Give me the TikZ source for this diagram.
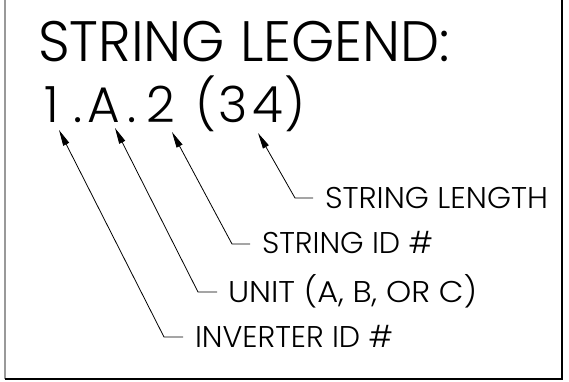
\documentclass[tikz,border=0pt]{standalone}
\usepackage{fontspec}
\usepackage{graphicx}
\setmainfont{Poppins}[UprightFont=*-Light]
\usetikzlibrary{arrows.meta}
\newcommand\fitw[3]{\resizebox{#1}{\height}{\fontsize{#2}{#2}\selectfont #3}}
\begin{document}
\begin{tikzpicture}[x=1pt,y=-1pt,
  lbl/.style={anchor=base west,inner sep=0pt,outer sep=0pt},
  glyph/.style={anchor=base,inner sep=0pt,outer sep=0pt,font=\fontsize{50}{50}\selectfont},
  leader/.style={draw=black,line width=0.8pt,-{Triangle[length=16pt,width=6.5pt]}},
  frameline/.style={line width=1.6pt}]
\useasboundingbox (0,0) rectangle (569,382);
% frame
\draw[frameline,draw=gray!80] (5,0) -- (5,379);
\draw[frameline] (5,379) -- (562,379) -- (562,0);
% title
\node[lbl] (title) at (38,62) {\fitw{412pt}{57}{STRING LEGEND:}};
% code 1.A.2 (34), glyph by glyph
\node[glyph] (g1) at (51.5,123) {1};
\node[glyph] (d1) at (78,123) {.};
\node[glyph] (gA) at (104,123) {A};
\node[glyph] (d2) at (132,123) {.};
\node[glyph] (g2) at (161,123) {2};
\node[glyph] (pl) at (206,123) {(};
\node[glyph] (g3) at (233.5,123) {3};
\node[glyph] (g4) at (267.5,123) {4};
\node[glyph] (pr) at (295,123) {)};
% labels
\node[lbl] (len) at (325,208) {\fitw{223pt}{30}{STRING LENGTH}};
\node[lbl] (sid) at (262,253) {\fitw{171pt}{30}{STRING ID \#}};
\node[lbl] (unit) at (228,302) {\fitw{249pt}{30}{UNIT (A, B, OR C)}};
\node[lbl] (inv) at (195,347) {\fitw{198pt}{30}{INVERTER ID \#}};
% leader points
\coordinate (t1) at (59,130);
\coordinate (t2) at (115,128);
\coordinate (t3) at (172,132);
\coordinate (t4) at (258,133);
\coordinate (e1) at (164,337);
\coordinate (e2) at (198,292);
\coordinate (e3) at (232,244);
\coordinate (e4) at (295,198);
\draw[leader] ([xshift=-12pt]inv.west |- e1) -- (e1) -- (t1);
\draw[leader] ([xshift=-11pt]unit.west |- e2) -- (e2) -- (t2);
\draw[leader] ([xshift=-12pt]sid.west |- e3) -- (e3) -- (t3);
\draw[leader] ([xshift=-12pt]len.west |- e4) -- (e4) -- (t4);
\end{tikzpicture}
\end{document}
